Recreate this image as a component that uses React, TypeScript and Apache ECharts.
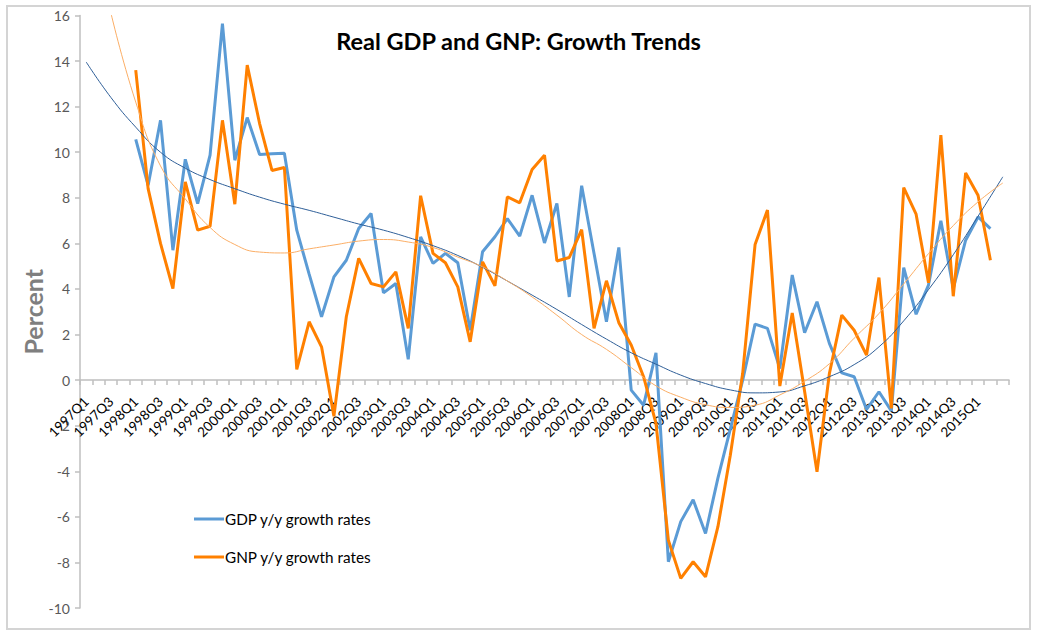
import React, { useEffect, useRef } from "react";
import * as echarts from "echarts";

// Quarterly categories 1997Q1 .. 2015Q3
const years = [1997, 1998, 1999, 2000, 2001, 2002, 2003, 2004, 2005, 2006, 2007, 2008, 2009, 2010, 2011, 2012, 2013, 2014, 2015];
const quarters = ["Q1", "Q2", "Q3", "Q4"];
const categories: string[] = [];
years.forEach((y) => quarters.forEach((q) => categories.push(`${y}${q}`)));
categories.splice(75);

const yTicks = { min: -10, max: 16, step: 2 };

// GDP y/y growth rates (1997Q1..2015Q3, null = no data)
const gdp: (number | null)[] = [
  null, null, null, null,
  10.56, 8.55, 11.4, 5.7, 9.69, 7.75, 9.87, 15.64, 9.65, 11.52, 9.9, 9.93,
  9.96, 6.58, 4.65, 2.78, 4.53, 5.26, 6.65, 7.31, 3.83, 4.24, 0.91, 6.29,
  5.12, 5.56, 5.15, 2.19, 5.63, 6.29, 7.09, 6.32, 8.11, 6.02, 7.75, 3.65,
  8.53, 5.56, 2.56, 5.82, -0.44, -1.1, 1.2, -7.97, -6.21, -5.25, -6.73, -4.3,
  -2.15, 0.0, 2.46, 2.27, 0.51, 4.61, 2.08, 3.44, 1.61, 0.32, 0.15, -1.29,
  -0.51, -1.35, 4.94, 2.89, 4.17, 6.99, 4.02, 6.14, 7.16, 6.65,
  null,
];

// GNP y/y growth rates
const gnp: (number | null)[] = [
  null, null, null, null,
  13.6, 8.4, 6.0, 4.02, 8.7, 6.58, 6.75, 11.4, 7.72, 13.82, 11.26, 9.2,
  9.33, 0.47, 2.56, 1.46, -1.58, 2.78, 5.34, 4.24, 4.09, 4.75, 2.27, 8.09,
  5.56, 5.15, 4.09, 1.68, 5.19, 4.14, 8.04, 7.78, 9.24, 9.87, 5.23, 5.38,
  6.6, 2.27, 4.36, 2.52, 1.54, 0.15, -1.9, -7.02, -8.7, -7.97, -8.63, -6.43,
  -3.3, 0.3, 5.95, 7.46, -0.26, 2.95, -0.5, -4.02, 0.29, 2.85, 2.19, 1.1,
  4.5, -1.24, 8.45, 7.28, 4.27, 10.75, 3.68, 9.09, 8.11, 5.26,
  null,
];

// Trendlines (category index -> value)
const gdpTrendIdx = [0, 2, 4, 6, 8, 10, 12, 14, 16, 18, 20, 22, 24, 26, 28, 30, 32, 34, 36, 38, 40, 42, 44, 46, 48, 50, 52, 54, 56, 58, 60, 62, 64, 66, 68, 70, 72, 74];
const gdpTrendVals = [13.96, 12.4, 11.1, 10.0, 9.3, 8.8, 8.4, 8.03, 7.72, 7.45, 7.15, 6.85, 6.58, 6.26, 5.9, 5.47, 4.95, 4.35, 3.73, 3.1, 2.44, 1.8, 1.2, 0.7, 0.22, -0.15, -0.43, -0.56, -0.52, -0.25, 0.15, 0.68, 1.46, 2.6, 3.97, 5.5, 7.19, 8.92];

const gnpTrendIdx = [2, 4, 6, 8, 10, 12, 14, 16, 18, 20, 22, 24, 26, 28, 30, 32, 34, 36, 38, 40, 42, 44, 46, 48, 50, 52, 54, 56, 58, 60, 62, 64, 66, 68, 70, 72, 74];
const gnpTrendVals = [16.1, 12.2, 9.4, 7.95, 6.7, 5.95, 5.62, 5.58, 5.76, 5.93, 6.1, 6.17, 6.06, 5.82, 5.4, 4.97, 4.35, 3.65, 2.85, 2.0, 1.35, 0.55, -0.25, -0.75, -1.08, -1.2, -1.1, -0.65, -0.05, 0.72, 1.84, 2.92, 4.22, 5.55, 6.78, 7.82, 8.65];

const FONT = "Lato, 'Open Sans', sans-serif";

const W = 1037;
const H = 634;
const GRID = { left: 80, right: 28, top: 15.5, bottom: 26 };

export default function App() {
  const ref = useRef<HTMLDivElement>(null);

  useEffect(() => {
    if (!ref.current) return;
    const chart = echarts.init(ref.current, undefined, { renderer: "svg" });

    const gdpTrend = gdpTrendIdx.map((i, k) => [categories[i], gdpTrendVals[k]]);
    const gnpTrend = gnpTrendIdx.map((i, k) => [categories[i], gnpTrendVals[k]]);

    // place the category axis (line, ticks and labels) on the zero line
    const gridH = H - GRID.top - GRID.bottom;
    const zeroOffset = -((0 - yTicks.min) / (yTicks.max - yTicks.min)) * gridH;

    chart.setOption({
      animation: false,
      backgroundColor: "#ffffff",
      textStyle: { fontFamily: FONT },
      title: {
        text: "Real GDP and GNP: Growth Trends",
        left: "center",
        top: 24,
        textStyle: { fontFamily: FONT, fontSize: 23.5, fontWeight: "bold", color: "#000000" },
      },
      graphic: [
        {
          type: "rect",
          shape: { x: 7, y: 6, width: 1023, height: 623 },
          style: { fill: "none", stroke: "#d4d4d4", lineWidth: 2 },
          silent: true,
          z: -1,
        },
      ],
      legend: {
        orient: "vertical",
        left: 189,
        top: 505,
        itemWidth: 30,
        itemHeight: 3,
        itemGap: 20,
        icon: "rect",
        data: ["GDP y/y growth rates", "GNP y/y growth rates"],
        textStyle: { fontFamily: FONT, fontSize: 15.3, color: "#000000", lineHeight: 18, padding: [0, 0, 0, -4] },
      },
      grid: {
        ...GRID,
        containLabel: false,
        outerBoundsMode: "none",
      },
      xAxis: {
        type: "category",
        data: categories,
        boundaryGap: true,
        offset: zeroOffset,
        axisLine: { show: true, onZero: false, lineStyle: { color: "#bfbfbf", width: 1.5 } },
        axisTick: { show: true, interval: 0, length: 5, lineStyle: { color: "#bfbfbf", width: 1.5 } },
        axisLabel: {
          interval: (i: number) => i % 2 === 0 && i < categories.length - 1,
          rotate: 45,
          fontSize: 13.5,
          color: "#000000",
          margin: 19,
          fontFamily: FONT,
        },
        splitLine: { show: false },
      },
      yAxis: {
        type: "value",
        min: yTicks.min,
        max: yTicks.max,
        interval: yTicks.step,
        name: "Percent",
        nameLocation: "middle",
        nameGap: 35,
        nameRotate: 90,
        nameMoveOverlap: false,
        nameTextStyle: { fontFamily: FONT, fontSize: 25, fontWeight: "bold", color: "#7f7f7f" },
        axisLine: { show: true, lineStyle: { color: "#bfbfbf", width: 1.5 } },
        axisTick: { show: true, length: 5, lineStyle: { color: "#bfbfbf", width: 1.5 } },
        axisLabel: { fontSize: 14, color: "#595959", margin: 10, fontFamily: FONT },
        splitLine: { show: false },
      },
      series: [
        {
          name: "GDP y/y growth rates",
          type: "line",
          data: gdp,
          showSymbol: false,
          symbol: "none",
          color: "#5b9bd5",
          lineStyle: { color: "#5b9bd5", width: 3 },
          z: 3,
        },
        {
          name: "GNP y/y growth rates",
          type: "line",
          data: gnp,
          showSymbol: false,
          symbol: "none",
          color: "#ff8000",
          lineStyle: { color: "#ff8000", width: 3 },
          z: 4,
        },
        {
          name: "GDP trend",
          type: "line",
          data: gdpTrend,
          smooth: true,
          showSymbol: false,
          symbol: "none",
          lineStyle: { color: "#2f5f98", width: 1 },
          z: 5,
        },
        {
          name: "GNP trend",
          type: "line",
          data: gnpTrend,
          smooth: true,
          showSymbol: false,
          symbol: "none",
          lineStyle: { color: "#fbae66", width: 1 },
          z: 5,
        },
      ],
    });

    return () => chart.dispose();
  }, []);

  return (
    <div
      ref={ref}
      style={{ position: "absolute", left: 0, top: 0, width: W, height: H, background: "#ffffff" }}
    />
  );
}
